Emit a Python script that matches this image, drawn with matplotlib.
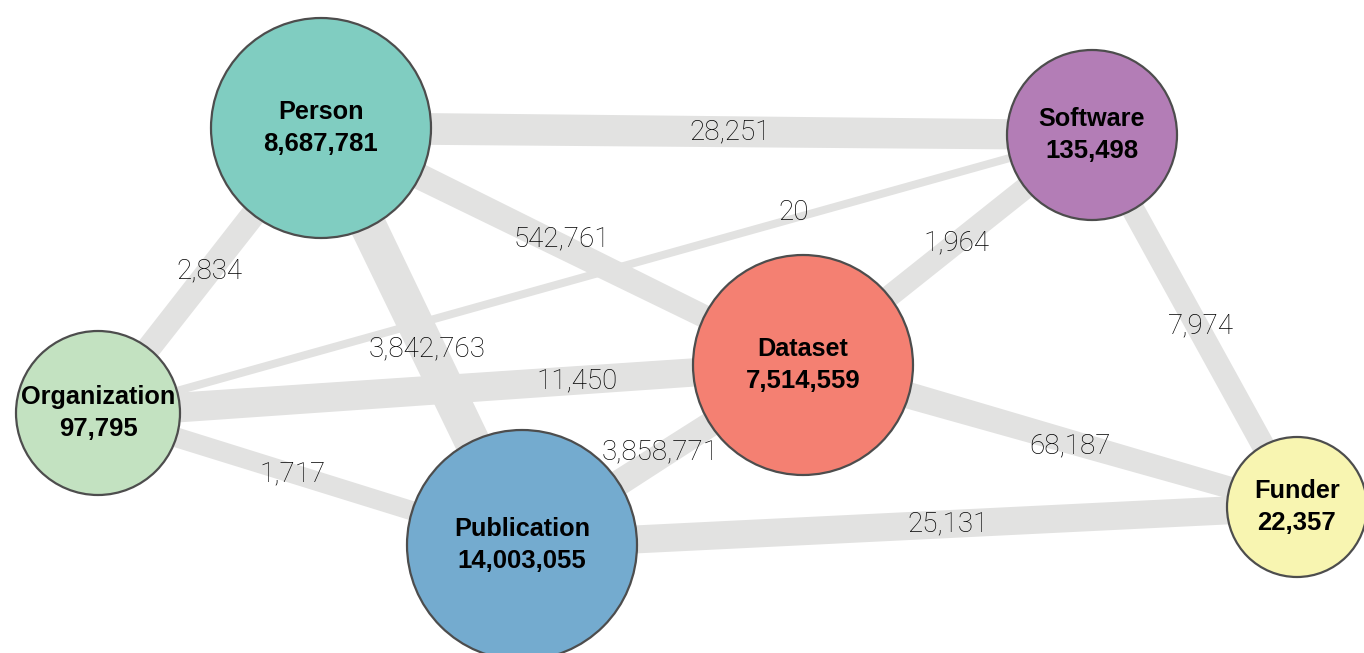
import numpy as np
import matplotlib
matplotlib.use("Agg")
import matplotlib.pyplot as plt
from matplotlib.patches import Circle

# nodes: name, count, layout position (px), radius (px), fill colour
node_names = ["Person", "Software", "Organization", "Dataset", "Publication", "Funder"]
node_counts = [8687781, 135498, 97795, 7514559, 14003055, 22357]
node_x = [321, 1092, 98, 803, 522, 1297]
node_y = [128, 135, 413, 365, 545, 507]
node_r = [110, 85, 82, 110, 115, 70]
node_colors = ["#80cdc1", "#b37db6", "#c3e2c1", "#f48072", "#74abcf", "#f8f5b1"]

# edges: source, target, count, width at source / target end, label position along edge
edge_src = ["Person", "Organization", "Person", "Person", "Person", "Organization",
            "Organization", "Dataset", "Publication", "Dataset", "Publication", "Software"]
edge_dst = ["Software", "Software", "Dataset", "Publication", "Organization", "Dataset",
            "Publication", "Software", "Dataset", "Funder", "Funder", "Funder"]
edge_counts = [28251, 20, 542761, 3842763, 2834, 11450, 1717, 1964, 3858771, 68187, 25131, 7974]
edge_w_src = [32, 8, 27, 37, 25, 30, 20, 22, 27, 28, 28, 23]
edge_w_dst = [30, 8, 22, 35, 24, 28, 19, 22, 24, 21, 28, 23]
label_t = [0.53, 0.70, 0.50, 0.53, 0.50, 0.68, 0.46, 0.53, 0.49, 0.54, 0.55, 0.53]
label_shift = [0, -6, -8, 0, 0, 0, 0, 0, -5, 4, 0, -6]

pos = {n: (x, y) for n, x, y in zip(node_names, node_x, node_y)}

fig = plt.figure(figsize=(13.64, 6.53), dpi=100)
ax = fig.add_axes([0, 0, 1, 1])
ax.set_xlim(0, 1364)
ax.set_ylim(653, 0)
ax.axis("off")

edge_color = "#e2e2e1"
for s, d, c, w1, w2, t, sh in zip(edge_src, edge_dst, edge_counts, edge_w_src,
                                  edge_w_dst, label_t, label_shift):
    p1 = np.array(pos[s], dtype=float)
    p2 = np.array(pos[d], dtype=float)
    v = p2 - p1
    n = np.array([-v[1], v[0]]) / np.hypot(*v)
    poly = np.array([p1 + n * w1 / 2, p2 + n * w2 / 2, p2 - n * w2 / 2, p1 - n * w1 / 2])
    ax.fill(poly[:, 0], poly[:, 1], color=edge_color, lw=0, zorder=1)
    lp = p1 + v * t
    ax.text(lp[0], lp[1] + sh, f"{c:,}", ha="center", va="center", fontsize=20,
            family=["Roboto", "Liberation Sans", "DejaVu Sans"], fontweight="light",
            color="black", zorder=5)

for name, cnt, x, y, r, col in zip(node_names, node_counts, node_x, node_y, node_r, node_colors):
    ax.add_patch(Circle((x, y), r, facecolor=col, edgecolor="#4d4d4d", lw=1.6, zorder=3))
    ax.text(x, y - 16, name, ha="center", va="center", fontsize=18.2, fontweight="bold",
            family=["Liberation Sans", "DejaVu Sans"], color="black", zorder=4)
    ax.text(x, y + 16, f"{cnt:,}", ha="center", va="center", fontsize=18.5, fontweight="bold",
            family=["Liberation Sans", "DejaVu Sans"], color="black", zorder=4)

fig.savefig("out.png", dpi=100)
